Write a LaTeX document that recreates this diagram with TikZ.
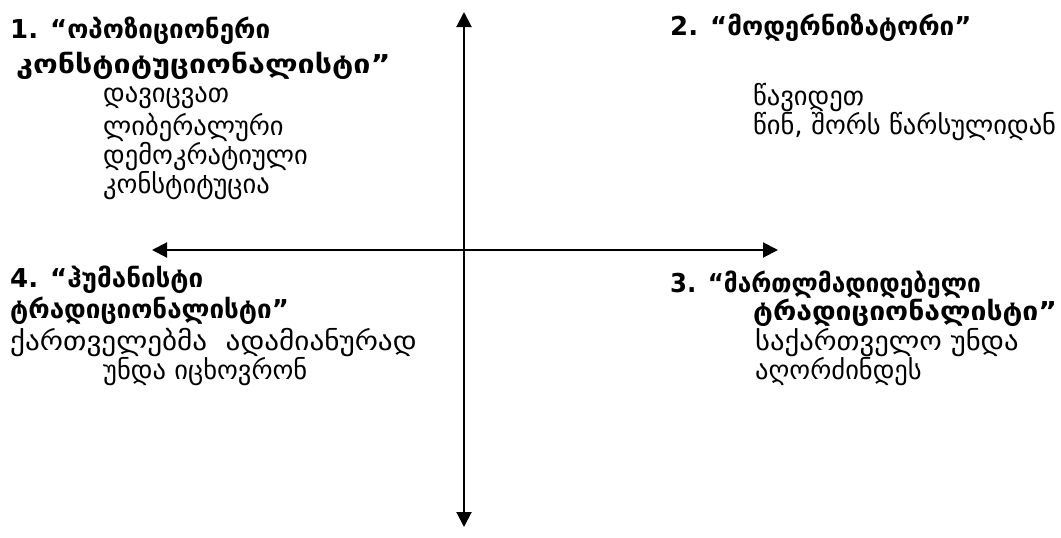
\documentclass[tikz,border=0pt]{standalone}
\usepackage{fontspec}
\setmainfont{DejaVu Sans}
\usetikzlibrary{arrows.meta}
\tikzset{
  axis/.style={line width=2pt, {Triangle[length=15pt,width=15pt]}-{Triangle[length=15pt,width=15pt]}},
  ttl/.style={anchor=west, inner sep=0pt, font=\fontsize{26}{30}\selectfont\bfseries},
  bdy/.style={anchor=west, inner sep=0pt, font=\fontsize{26.5}{30}\selectfont},
}
\begin{document}
\begin{tikzpicture}[x=1pt,y=-1pt]
\useasboundingbox (0,0) rectangle (1061,538);
\coordinate (vt) at (464,12);
\coordinate (vb) at (464,527);
\coordinate (hl) at (152,250);
\coordinate (hr) at (778,250);
\draw[axis] (vb) -- (vt);
\draw[axis] (hl) -- (hr);
% quadrant 1
\node[ttl] (t1a) at (10,31) {1. “ოპოზიციონერი};
\node[ttl] (t1b) at (16,66) {\scalebox{1.17}[1]{კონსტიტუციონალისტი”}};
\node[bdy] (b1a) at (103,98) {დავიცვათ};
\node[bdy] (b1b) at (103,128) {ლიბერალური};
\node[bdy] (b1c) at (103,157) {დემოკრატიული};
\node[bdy] (b1d) at (103,186) {კონსტიტუცია};
% quadrant 2
\node[ttl] (t2a) at (670,28) {2. “მოდერნიზატორი”};
\node[bdy] (b2a) at (753,98) {წავიდეთ};
\node[bdy] (b2b) at (753,127) {წინ, შორს წარსულიდან};
% quadrant 4
\node[ttl] (t4a) at (10,280) {4. “ჰუმანისტი};
\node[ttl] (t4b) at (10,311) {ტრადიციონალისტი”};
\node[bdy] (b4a) at (10,343) {\scalebox{1.1}[1]{ქართველებმა\ \ ადამიანურად}};
\node[bdy] (b4b) at (103,372) {უნდა იცხოვრონ};
% quadrant 3
\node[ttl] (t3a) at (670,285) {\scalebox{0.94}[1]{3. “მართლმადიდებელი}};
\node[ttl] (t3b) at (753,313) {\scalebox{1.09}[1]{ტრადიციონალისტი”}};
\node[bdy] (b3a) at (755,343) {\scalebox{1.08}[1]{საქართველო უნდა}};
\node[bdy] (b3b) at (755,372) {აღორძინდეს};
\end{tikzpicture}
\end{document}
